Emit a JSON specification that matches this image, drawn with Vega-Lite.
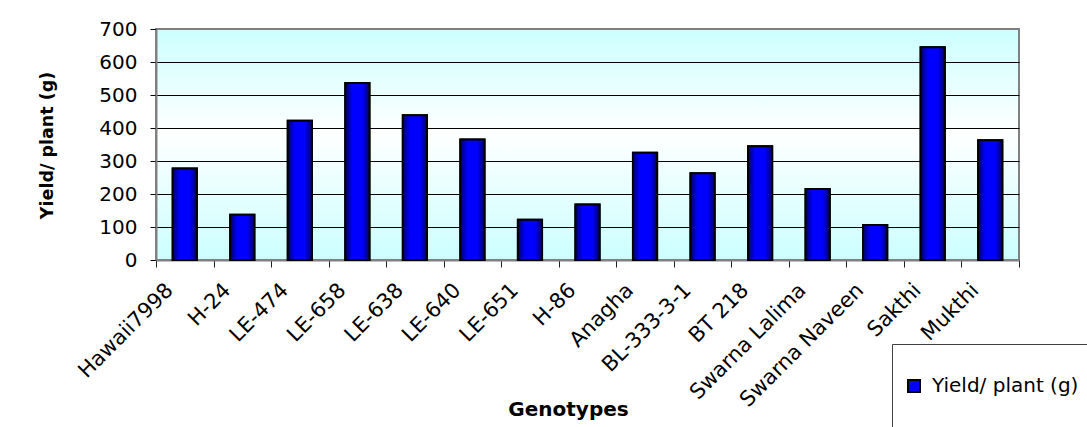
{
  "$schema": "https://vega.github.io/schema/vega-lite/v6.json",
  "width": 863,
  "height": 231,
  "autosize": {"type": "none"},
  "padding": {"left": 156, "top": 29, "right": 68, "bottom": 167},
  "background": "white",
  "data": {
    "values": [
      {"genotype": "Hawaii7998", "yield": 277},
      {"genotype": "H-24", "yield": 137},
      {"genotype": "LE-474", "yield": 422},
      {"genotype": "LE-658", "yield": 536},
      {"genotype": "LE-638", "yield": 439},
      {"genotype": "LE-640", "yield": 365},
      {"genotype": "LE-651", "yield": 122},
      {"genotype": "H-86", "yield": 168},
      {"genotype": "Anagha", "yield": 325},
      {"genotype": "BL-333-3-1", "yield": 263},
      {"genotype": "BT 218", "yield": 345},
      {"genotype": "Swarna Lalima", "yield": 215},
      {"genotype": "Swarna Naveen", "yield": 106},
      {"genotype": "Sakthi", "yield": 645},
      {"genotype": "Mukthi", "yield": 363}
    ]
  },
  "view": {
    "fill": {
      "gradient": "linear", "x1": 0, "y1": 0, "x2": 0, "y2": 1,
      "stops": [
        {"offset": 0, "color": "#ccffff"},
        {"offset": 0.45, "color": "#ffffff"},
        {"offset": 1, "color": "#ccffff"}
      ]
    },
    "stroke": "#808080",
    "strokeWidth": 2
  },
  "encoding": {
    "x": {
      "field": "genotype", "type": "nominal", "sort": null,
      "scale": {"paddingInner": 0, "paddingOuter": 0},
      "axis": {
        "title": "Genotypes",
        "titleFont": "DejaVu Sans", "titleFontSize": 20, "titleFontWeight": "bold", "titleColor": "black",
        "titleX": 412, "titleY": 155, "titleBaseline": "alphabetic", "titleAlign": "center",
        "labelAngle": -45, "labelFont": "DejaVu Sans", "labelFontSize": 21, "labelColor": "black",
        "labelPadding": 12, "labelOffset": -23, "labelOverlap": false, "labelLimit": 0,
        "tickBand": "extent", "tickSize": 7, "tickColor": "#202020", "tickWidth": 1,
        "domainColor": "#808080", "domainWidth": 2, "grid": false
      }
    },
    "y": {
      "field": "yield", "type": "quantitative",
      "scale": {"domain": [0, 700], "nice": false},
      "axis": {
        "title": "Yield/ plant (g)",
        "titleFont": "DejaVu Sans", "titleFontSize": 17.5, "titleFontWeight": "bold", "titleColor": "black",
        "titleX": -109, "titleY": 116, "titleAngle": -90, "titleAlign": "center", "titleBaseline": "middle",
        "values": [0, 100, 200, 300, 400, 500, 600, 700],
        "labelFont": "DejaVu Sans", "labelFontSize": 20, "labelColor": "black", "labelPadding": 13,
        "labelFlush": false,
        "tickSize": 6, "tickColor": "black", "tickWidth": 1,
        "domainColor": "#808080", "domainWidth": 2,
        "grid": true,
        "gridColor": {"condition": {"test": "datum.value == 700 || datum.value == 0", "value": "#808080"}, "value": "black"},
        "gridWidth": 1, "gridOpacity": 1
      }
    }
  },
  "layer": [
    {
      "mark": {"type": "bar", "stroke": "black", "strokeWidth": 2, "width": {"band": 0.42}},
      "encoding": {
        "color": {
          "datum": "Yield/ plant (g)",
          "type": "nominal",
          "scale": {"domain": ["Yield/ plant (g)", " "], "range": ["#0000ff", "white"]},
          "legend": {
            "orient": "none", "legendX": 736, "legendY": 315,
            "title": " ", "titleFontSize": 18, "titlePadding": 2,
            "padding": 12, "strokeColor": "#404040", "fillColor": "white",
            "symbolType": "square", "symbolSize": 144, "symbolStrokeWidth": 2,
            "symbolStrokeColor": {"expr": "datum.value === ' ' ? 'white' : 'black'"},
            "rowPadding": 12,
            "labelFont": "DejaVu Sans", "labelFontSize": 20, "labelColor": "black", "labelOffset": 8, "labelLimit": 0
          }
        }
      }
    },
    {
      "mark": {
        "type": "bar", "stroke": "black", "strokeWidth": 2, "width": {"band": 0.42},
        "fill": {
          "gradient": "linear", "x1": 0, "y1": 0, "x2": 1, "y2": 0,
          "stops": [
            {"offset": 0, "color": "#000066"},
            {"offset": 0.3, "color": "#0000ff"},
            {"offset": 0.7, "color": "#0000ff"},
            {"offset": 1, "color": "#000066"}
          ]
        }
      }
    }
  ]
}
